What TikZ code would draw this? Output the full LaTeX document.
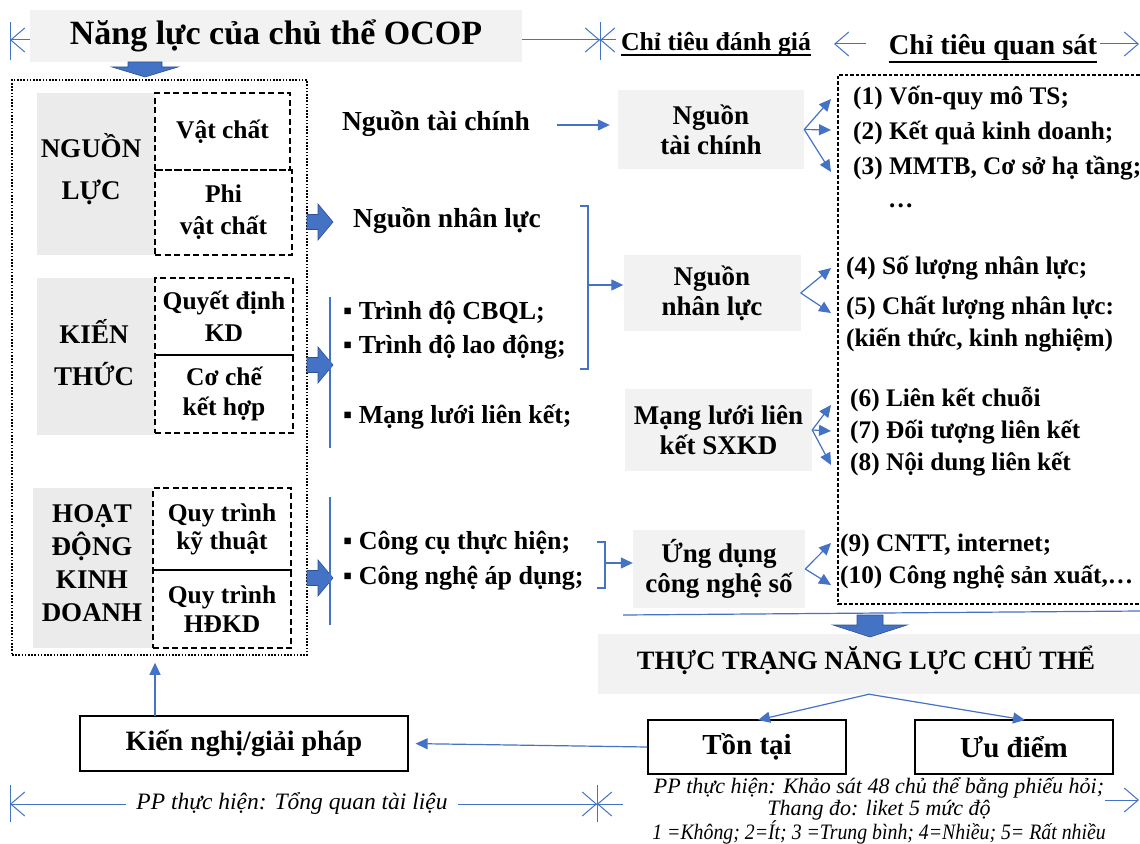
\documentclass[tikz,border=0pt]{standalone}
\usepackage{fontspec}
\usepackage{graphicx}
\setmainfont{Liberation Serif}
\usetikzlibrary{arrows.meta}
\definecolor{ob}{HTML}{4472C4}
\definecolor{obd}{HTML}{2F528F}
\definecolor{gfill}{HTML}{F2F2F2}
\definecolor{gfillL}{HTML}{EBEBEB}
\newcommand{\fsz}[2]{\fontsize{#1}{#2}\selectfont}
\begin{document}
\begin{tikzpicture}[x=1pt,y=-1pt,
  gbox/.style={fill=gfill, inner sep=0pt, align=center, font=\fsz{27}{30}\bfseries},
  lbox/.style={fill=gfillL, inner sep=0pt},
  ltxt/.style={inner sep=0pt, align=center, font=\fsz{27}{42}\bfseries},
  dbox/.style={draw, line width=1.8pt, dash pattern=on 6pt off 3.5pt, inner sep=0pt, align=center, font=\fsz{25.5}{32}\bfseries},
  txt/.style={inner sep=0pt, font=\fsz{27.5}{31}\bfseries},
  btxt/.style={inner sep=0pt, anchor=west, font=\fsz{26}{31}\bfseries},
  rtxt/.style={inner sep=0pt, anchor=west, font=\fsz{25.3}{30}\bfseries},
  bl/.style={draw=ob, line width=1.2pt},
  fa/.style={bl, -{Triangle[length=12pt,width=11pt]}},
  dimtip/.style={draw=ob, line width=1pt, -{Straight Barb[length=14pt,width=24pt]}},
  blk/.style={fill=ob, draw=obd, line width=0.6pt},
  wbox/.style={draw, line width=1.2pt, inner sep=0pt, font=\fsz{29}{33}\bfseries},
  itx/.style={inner sep=0pt, font=\fsz{23.5}{24}\itshape},
  uline/.style={line width=1.6pt},
]
\useasboundingbox (0,0) rectangle (1140,843);

% ---------- top dimension lines ----------
\coordinate (d1a) at (10,40);
\coordinate (d1b) at (600,40);
\draw[draw=ob, line width=1pt] (10,22) -- (10,60);
\draw[draw=ob, line width=1pt] (600,22) -- (600,60);
\draw[dimtip] (d1b) -- (d1a);
\draw[dimtip] (d1a) -- (d1b);
\node[gbox, minimum width=492, minimum height=52, font=\fsz{34}{38}\bfseries] (title) at (276,36) {Năng lực của chủ thể OCOP};
\coordinate (d2a) at (616,40);
\draw[dimtip] (d2a) -- (d1b);
\node[inner sep=0pt, font=\fsz{25.8}{28}\bfseries] (cdg) at (716,44) {Chỉ tiêu đánh giá};
\draw[uline] ([yshift=-4.5pt]cdg.base west) -- ([yshift=-4.5pt]cdg.base east);
\coordinate (d3a) at (866,44);
\coordinate (d3b) at (834,44);
\draw[dimtip] (d3a) -- (d3b);
\node[inner sep=0pt, font=\fsz{28.5}{30}\bfseries] (cqs) at (993,47) {Chỉ tiêu quan sát};
\draw[uline] ([yshift=-8pt]cqs.base west) -- ([yshift=-8pt]cqs.base east);
\coordinate (d4a) at (1100,44);
\coordinate (d4b) at (1139,44);
\draw[dimtip] (d4a) -- (d4b);

% block arrow under title
\filldraw[blk] (128,62) -- (162,62) -- (162,67) -- (178,67) -- (145,77) -- (112,67) -- (128,67) -- cycle;

% ---------- left column ----------
\node[draw, line width=1.6pt, dash pattern=on 1.6pt off 1.6pt, minimum width=295, minimum height=575, inner sep=0pt] (outer) at (159.5,367.5) {};

\node[lbox, minimum width=118, minimum height=162] (nl) at (96,174) {};
\node[ltxt] (nlt) at (91,169) {NGUỒN\\LỰC};
\node[dbox, minimum width=135, minimum height=77] (vc) at (222.5,131.5) {Vật chất};
\node[dbox, minimum width=137, minimum height=85] (pvc) at (223.5,212.5) {Phi\\vật chất};

\node[lbox, minimum width=118, minimum height=157] (kt) at (96,356.5) {};
\node[ltxt] (ktt) at (94,353) {KIẾN\\THỨC};
\node[dbox, minimum width=138, minimum height=77] (qd) at (224,316.5) {Quyết định\\KD};
\node[dbox, minimum width=138, minimum height=78, font=\fsz{25.5}{30}\bfseries] (ch) at (224,394) {Cơ chế\\kết hợp};

\node[lbox, minimum width=120, minimum height=160] (hd) at (93,568) {};
\node[ltxt, font=\fsz{27}{33}\bfseries] (hdt) at (92,563) {HOẠT\\ĐỘNG\\KINH\\DOANH};
\node[dbox, minimum width=138, minimum height=82, font=\fsz{25.5}{28}\bfseries] (qk) at (222,529) {Quy trình\\kỹ thuật};
\node[dbox, minimum width=138, minimum height=78, font=\fsz{25.5}{29}\bfseries] (qh) at (222,609) {Quy trình\\HĐKD};

% block arrows to the right
\foreach \c in {222,365,578}{
  \filldraw[blk] (307,{\c-7.5}) -- (318,{\c-7.5}) -- (318,{\c-18}) -- (333,\c) -- (318,{\c+18}) -- (318,{\c+7.5}) -- (307,{\c+7.5}) -- cycle;
}
\draw[bl] (330,297) -- (330,448);
\draw[bl] (330,497) -- (330,625);

% ---------- middle texts ----------
\node[txt] (mtc) at (436,124) {Nguồn tài chính};
\node[txt] (mnl) at (447,221) {Nguồn nhân lực};
\node[btxt] (b1) at (343,313) {▪ Trình độ CBQL;};
\node[btxt] (b2) at (343,347) {▪ Trình độ lao động;};
\node[btxt] (b3) at (343,417) {▪ Mạng lưới liên kết;};
\node[btxt] (b4) at (343,543) {▪ Công cụ thực hiện;};
\node[btxt] (b5) at (343,578) {▪ Công nghệ áp dụng;};

% ---------- evaluation boxes ----------
\node[gbox, minimum width=186, minimum height=79] (ntc) at (711,129.5) {Nguồn\\tài chính};
\node[gbox, minimum width=177, minimum height=76] (nnl) at (712,293) {Nguồn\\nhân lực};
\node[gbox, minimum width=187, minimum height=82] (mlk) at (718.5,430) {Mạng lưới liên\\kết SXKD};
\node[gbox, minimum width=172, minimum height=78] (ud) at (719,569) {Ứng dụng\\công nghệ số};

% connectors middle -> evaluation
\coordinate (a1) at (557,125);
\draw[fa] (a1) -- (a1 -| ntc.west) [shorten >=8pt];
\coordinate (br1) at (588,285);
\draw[bl] (580,206) -- (588,206) -- (588,369) -- (580,369);
\draw[fa] (br1) -- (br1 -| nnl.west);
\coordinate (br2) at (605,563);
\draw[bl] (597,542) -- (605,542) -- (605,588) -- (597,588);
\draw[fa] (br2) -- (br2 -| ud.west);

% ---------- observation list ----------
\draw[line width=1.5pt, dash pattern=on 3.5pt off 2pt] (1145,75) -- (838,75) -- (838,604) -- (1145,604);
\node[rtxt] (t1) at (853,98) {(1) Vốn-quy mô TS;};
\node[rtxt] (t2) at (853,133) {(2) Kết quả kinh doanh;};
\node[rtxt] (t3) at (853,168) {(3) MMTB, Cơ sở hạ tầng;};
\node[rtxt] (t3b) at (888,206) {…};
\node[rtxt] (t4) at (846,268) {(4) Số lượng nhân lực;};
\node[rtxt] (t5) at (846,308) {(5) Chất lượng nhân lực:};
\node[rtxt] (t5b) at (846,340) {(kiến thức, kinh nghiệm)};
\node[rtxt] (t6) at (850,400) {(6) Liên kết chuỗi};
\node[rtxt] (t7) at (850,432) {(7) Đối tượng liên kết};
\node[rtxt] (t8) at (850,464) {(8) Nội dung liên kết};
\node[rtxt] (t9) at (840,545) {(9) CNTT, internet;};
\node[rtxt] (t10) at (840,577) {(10) Công nghệ sản xuất,…};

% fan arrows
\coordinate (e1) at (831,99); \coordinate (e2) at (831,130); \coordinate (e3) at (831,172);
\draw[fa] (ntc.east) -- (e1); \draw[fa] (ntc.east) -- (e2); \draw[fa] (ntc.east) -- (e3);
\coordinate (e4) at (831,268); \coordinate (e5) at (831,313);
\draw[fa] (nnl.east) -- (e4); \draw[fa] (nnl.east) -- (e5);
\coordinate (e6) at (831,405); \coordinate (e7) at (831,431); \coordinate (e8) at (831,465);
\draw[fa] (mlk.east) -- (e6); \draw[fa] (mlk.east) -- (e7); \draw[fa] (mlk.east) -- (e8);
\coordinate (e9) at (831,543); \coordinate (e10) at (831,585);
\draw[fa] (ud.east) -- (e9); \draw[fa] (ud.east) -- (e10);

% ---------- bottom part ----------
\draw[bl] (623,615) -- (1140,611);
\node[gbox, minimum width=542, minimum height=60] (ttr) at (869,664) {};
\node[inner sep=0pt, font=\fsz{26.5}{30}\bfseries] (ttrt) at (866,660) {THỰC TRẠNG NĂNG LỰC CHỦ THỂ};
\filldraw[blk] (857,615) -- (883,615) -- (883,625) -- (907,625) -- (870,637) -- (833,625) -- (857,625) -- cycle;

\node[wbox, minimum width=198, minimum height=54] (tn) at (747,747) {Tồn tại};
\node[wbox, minimum width=198, minimum height=54] (ude) at (1014,747) {Ưu điểm};
\node[wbox, minimum width=328, minimum height=55, font=\fsz{28}{32}\bfseries] (kn) at (244,743.5) {Kiến nghị/giải pháp};

\draw[fa] (ttr.south) -- (758,720);
\draw[fa] (ttr.south) -- (1025,720);
\draw[fa] (tn.west) -- (kn.east) [shorten >=7pt];
\coordinate (kup) at (155,716);
\draw[fa] (kup) -- (kup |- outer.south) [shorten >=7pt];

% bottom dimension lines
\coordinate (d5a) at (10,804);
\coordinate (d5b) at (597,804);
\draw[draw=ob, line width=1pt] (10,785) -- (10,822);
\draw[draw=ob, line width=1pt] (597,785) -- (597,822);
\draw[dimtip] (d5b) -- (d5a);
\draw[dimtip] (d5a) -- (d5b);
\node[itx, fill=white, inner xsep=10pt, inner ysep=2pt] (pp1) at (292,803) {PP thực hiện: Tổng quan tài liệu};
\coordinate (d6a) at (623,804);
\draw[dimtip] (d6a) -- (d5b);
\node[itx, align=center, font=\fsz{22}{22}\itshape] (pp2) at (879,811) {PP thực hiện: Khảo sát 48 chủ thể bằng phiếu hỏi;\\Thang đo: liket 5 mức độ\\\scalebox{0.9}[1]{1 =Không; 2=Ít; 3 =Trung bình; 4=Nhiều; 5= Rất nhiều}};
\coordinate (d7a) at (1105,800);
\coordinate (d7b) at (1139,800);
\draw[dimtip] (d7a) -- (d7b);
\end{tikzpicture}
\end{document}
